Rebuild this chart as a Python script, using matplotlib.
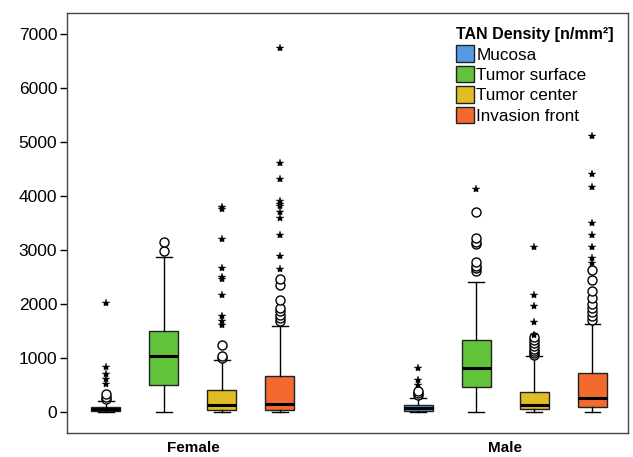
import matplotlib.pyplot as plt
from matplotlib.patches import Patch

plt.rcParams['font.family'] = ['Liberation Sans', 'DejaVu Sans']

# 分组与区域
groups = ['Female', 'Male']
regions = ['Mucosa', 'Tumor surface', 'Tumor center', 'Invasion front']
colors = ['#5599e6', '#62c23a', '#e0bd22', '#f26a2e']

# 箱线图统计量
female_whislo = [0, 0, 0, 0]
female_q1 = [10, 503, 24, 31]
female_med = [50, 1024, 117, 143]
female_q3 = [93, 1490, 404, 657]
female_whishi = [205, 2862, 950, 1589]
female_circles = [[240, 280, 330], [2985, 3141], [1000, 1037, 1229],
                  [1680, 1740, 1800, 1860, 1920, 2067, 2340, 2452]]
female_stars = [[520, 600, 690, 820, 2017], [],
                [1607, 1682, 1782, 2154, 2464, 2501, 2657, 3209, 3762, 3793],
                [2650, 2886, 3277, 3588, 3706, 3817, 3855, 3898, 4320, 4612, 6735]]

male_whislo = [0, 0, 0, 0]
male_q1 = [6, 466, 43, 80]
male_med = [75, 807, 117, 261]
male_q3 = [125, 1335, 372, 713]
male_whishi = [248, 2396, 1030, 1633]
male_circles = [[316, 350, 390], [2613, 2660, 2700, 2780, 3104, 3150, 3227, 3693],
                [1043, 1080, 1120, 1170, 1220, 1280, 1330, 1384],
                [1695, 1780, 1849, 1920, 2000, 2099, 2240, 2440, 2626]]
male_stars = [[503, 596, 819], [4134], [1415, 1663, 1955, 2160, 3060],
              [2750, 2843, 3060, 3277, 3495, 4158, 4413, 5102]]

data = {
    'Female': (female_whislo, female_q1, female_med, female_q3, female_whishi, female_circles, female_stars),
    'Male': (male_whislo, male_q1, male_med, male_q3, male_whishi, male_circles, male_stars),
}

fig = plt.figure(figsize=(6.33, 4.57), dpi=100)
ax = fig.add_axes([0.1058, 0.0525, 0.8863, 0.919])

offset = 0.1856
box_w = 0.093

for g, name in enumerate(groups):
    wlo, q1, med, q3, whi, circ, stars = data[name]
    for i in range(len(regions)):
        pos = g + (i - 1.5) * offset
        stats = [{'whislo': wlo[i], 'q1': q1[i], 'med': med[i], 'q3': q3[i],
                  'whishi': whi[i], 'fliers': circ[i]}]
        ax.bxp(stats, positions=[pos], widths=box_w, capwidths=box_w * 0.55,
               patch_artist=True, showfliers=True,
               boxprops=dict(facecolor=colors[i], edgecolor='#222222', linewidth=1.0),
               medianprops=dict(color='black', linewidth=2.2),
               whiskerprops=dict(color='black', linewidth=1.0),
               capprops=dict(color='black', linewidth=1.0),
               flierprops=dict(marker='o', markerfacecolor='white', markeredgecolor='black',
                               markersize=6.5, markeredgewidth=1.0, linestyle='none'))
        # 极端值用星号
        if stars[i]:
            ax.plot([pos] * len(stars[i]), stars[i], linestyle='none', marker='*',
                    color='black', markersize=6, markeredgewidth=0.3)

ax.set_xlim(-0.403, 1.392)
ax.set_ylim(-395, 7390)
ax.set_yticks(range(0, 7001, 1000))
ax.set_yticklabels([str(v) for v in range(0, 7001, 1000)], fontsize=12.5)
ax.set_xticks(range(len(groups)))
ax.set_xticklabels(groups, fontsize=11, fontweight='bold')
ax.tick_params(axis='x', length=0, pad=6)
ax.tick_params(axis='y', length=5, width=1, pad=2, direction='out')
for sp in ax.spines.values():
    sp.set_color('#444444')
    sp.set_linewidth(1.0)

handles = [Patch(facecolor=c, edgecolor='#222222', label=r) for c, r in zip(colors, regions)]
leg = ax.legend(handles=handles, loc='upper right', bbox_to_anchor=(0.995, 0.995), frameon=False,
                fontsize=12.3, title='TAN Density [n/mm²]',
                title_fontproperties={'weight': 'bold', 'size': 11.5},
                handlelength=1.1, handleheight=1.1, handletextpad=0.12,
                labelspacing=0.2, borderaxespad=0.3)
leg._legend_box.align = 'left'

fig.savefig('out.png', dpi=100)
